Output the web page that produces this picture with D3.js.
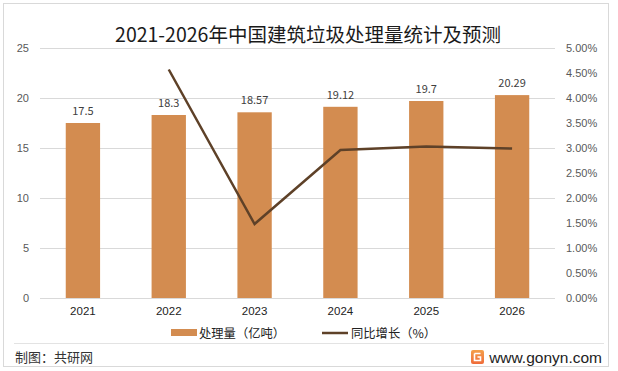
<!DOCTYPE html>
<html><head><meta charset="utf-8">
<script src="https://cdn.jsdelivr.net/npm/d3@7"></script>
<style>
body{margin:0;background:#fff;}
svg{display:block;font-family:"Microsoft YaHei","Noto Sans CJK SC","DejaVu Sans",sans-serif;}
</style></head>
<body><svg id="c" width="618" height="371"></svg>
<script>
const years = ["2021","2022","2023","2024","2025","2026"];
const volume = [17.5, 18.3, 18.57, 19.12, 19.7, 20.29];
const growth = [null, 4.57, 1.48, 2.96, 3.03, 2.99];
const leftTicks = [0,5,10,15,20,25];
const rightTicks = [0,0.5,1,1.5,2,2.5,3,3.5,4,4.5,5];
const title = "2021-2026年中国建筑垃圾处理量统计及预测";
const legendNames = ["处理量（亿吨）","同比增长（%）"];

const svg = d3.select("#c");
const barColor = "#d38c50", lineColor = "#5e4128";
const mL = 40, mR = 555, plotTop = 48, plotBot = 298;

// border
svg.append("rect").attr("x",3.5).attr("y",3.5).attr("width",605).attr("height",363)
  .attr("fill","#fff").attr("stroke","#d9d9d9");

svg.append("text").attr("x",308).attr("y",42).attr("text-anchor","middle")
  .attr("font-size",19.5).attr("font-weight",400).attr("fill","#1a1a1a").text(title);

const x = d3.scaleBand().domain(years).range([mL,mR]).paddingInner(0.6).paddingOuter(0.3);
const yL = d3.scaleLinear().domain([0,25]).range([plotBot,plotTop]);
const yR = d3.scaleLinear().domain([0,5]).range([plotBot,plotTop]);

// grid
svg.append("g").selectAll("line").data(leftTicks).join("line")
  .attr("x1",mL).attr("x2",mR).attr("y1",d=>yL(d)+0.5).attr("y2",d=>yL(d)+0.5)
  .attr("stroke","#d9d9d9").attr("stroke-width",1);

// left axis
const gl = svg.append("g").attr("transform",`translate(${mL},0)`)
  .call(d3.axisLeft(yL).tickValues(leftTicks).tickSize(0).tickPadding(11));
gl.select(".domain").remove();
gl.selectAll("text").attr("font-size",11).attr("fill","#595959").attr("font-family","inherit");

// right axis
const gr = svg.append("g").attr("transform",`translate(${mR},0)`)
  .call(d3.axisRight(yR).tickValues(rightTicks).tickSize(0).tickPadding(11).tickFormat(d=>d.toFixed(2)+"%"));
gr.select(".domain").remove();
gr.selectAll("text").attr("font-size",11).attr("fill","#595959").attr("font-family","inherit");

// bottom axis
const gb = svg.append("g").attr("transform",`translate(0,${plotBot})`)
  .call(d3.axisBottom(x).tickSize(0).tickPadding(9));
gb.select(".domain").remove();
gb.selectAll("text").attr("font-size",11.5).attr("fill","#222").attr("font-family","inherit");

// bars
svg.append("g").selectAll("rect").data(volume).join("rect")
  .attr("x",(d,i)=>x(years[i])).attr("width",x.bandwidth())
  .attr("y",d=>yL(d)).attr("height",d=>plotBot-yL(d)).attr("fill",barColor);

svg.append("g").selectAll("text").data(volume).join("text")
  .attr("x",(d,i)=>x(years[i])+x.bandwidth()/2).attr("y",d=>yL(d)-8)
  .attr("text-anchor","middle").attr("font-size",11).attr("fill","#404040")
  .text(d=>d);

// line
const pts = growth.map((g,i)=>[years[i],g]).filter(p=>p[1]!=null);
const line = d3.line().x(p=>x(p[0])+x.bandwidth()/2).y(p=>yR(p[1]));
svg.append("path").datum(pts).attr("d",line).attr("fill","none")
  .attr("stroke",lineColor).attr("stroke-width",2.5).attr("stroke-linejoin","miter");

// legend
const lg = svg.append("g");
lg.append("rect").attr("x",171).attr("y",329).attr("width",26).attr("height",7).attr("fill",barColor);
lg.append("text").attr("x",199).attr("y",337.5).attr("font-size",12.3).attr("fill","#222").text(legendNames[0]);
lg.append("line").attr("x1",322).attr("x2",348).attr("y1",333).attr("y2",333)
  .attr("stroke",lineColor).attr("stroke-width",2.5);
lg.append("text").attr("x",351).attr("y",337.5).attr("font-size",12.3).attr("fill","#222").text(legendNames[1]);

// separator
svg.append("line").attr("x1",14).attr("x2",604).attr("y1",343.5).attr("y2",343.5).attr("stroke","#e3e3e3");

// footer
svg.append("text").attr("x",15).attr("y",362).attr("font-size",13).attr("fill","#333").text("制图：共研网");
const lgG = svg.append("g").attr("transform","translate(471,350)");
const grad = svg.append("defs").append("linearGradient").attr("id","lg1").attr("x1",0).attr("y1",0).attr("x2",0).attr("y2",1);
grad.append("stop").attr("offset","0%").attr("stop-color","#f4a04a");
grad.append("stop").attr("offset","100%").attr("stop-color","#ef6b3a");
lgG.append("rect").attr("width",13).attr("height",14).attr("rx",2).attr("fill","url(#lg1)");
lgG.append("path").attr("d","M3.5,3.5 H9.5 M3.5,3.5 V10.5 H9.5 V7 H6.5").attr("fill","none").attr("stroke","#fff").attr("stroke-width",1.6);
svg.append("text").attr("x",602).attr("y",362.5).attr("text-anchor","end").attr("font-size",15.5).attr("fill","#222")
  .attr("font-family","Arial, 'Liberation Sans', sans-serif").text("www.gonyn.com");
</script></body></html>
